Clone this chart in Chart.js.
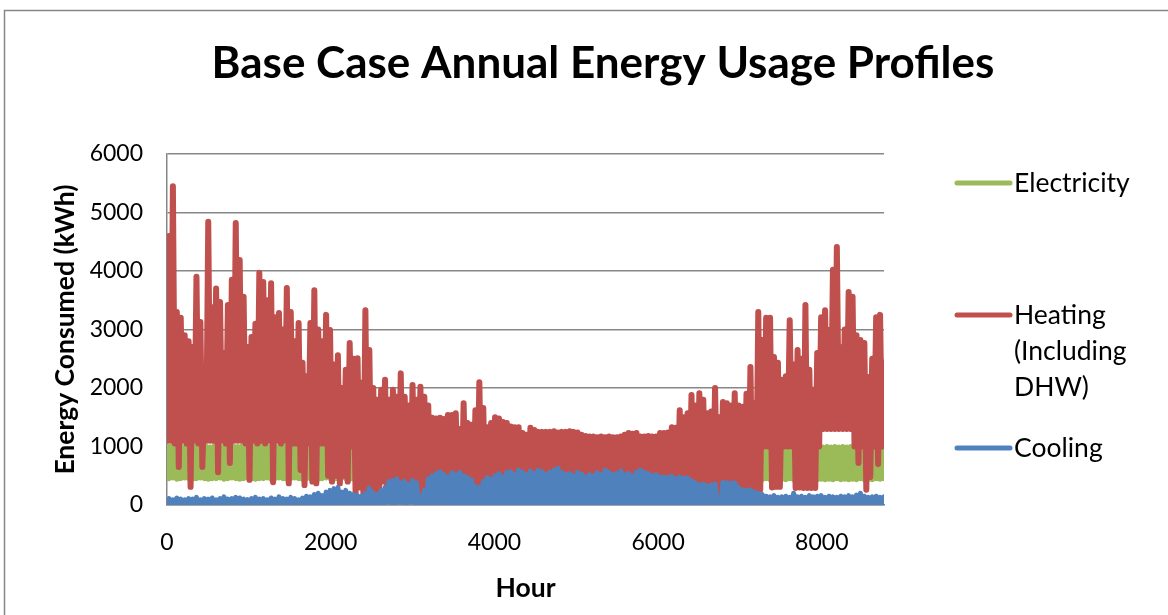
<!DOCTYPE html>
<html>
<head>
<meta charset="utf-8">
<title>Base Case Annual Energy Usage Profiles</title>
<script src="https://cdn.jsdelivr.net/npm/chart.js@4.4.1/dist/chart.umd.min.js"></script>
<style>
  html, body { margin: 0; padding: 0; background: #fff; overflow: hidden; }
  #energyChart { display: block; }
</style>
</head>
<body>
<canvas id="energyChart" width="1168" height="615"></canvas>
<script>
// values, one sample per day (every 24 h), alternating night/day
const hourStep = 24;
const xTicks = [0, 2000, 4000, 6000, 8000];
const legendLines = [['Electricity'], ['Heating', '(Including', 'DHW)'], ['Cooling']];

const electricity = [
  1020, 450, 1010, 460, 1000, 440, 1020, 450, 1000, 460, 1010, 450,
  1000, 440, 1010, 450, 990, 460, 1000, 450, 1010, 440, 990, 450,
  1020, 450, 1010, 460, 1000, 440, 1020, 450, 1000, 460, 1010, 450,
  1000, 440, 1010, 450, 990, 460, 1000, 450, 1010, 440, 990, 450,
  1020, 450, 1010, 460, 1000, 440, 1020, 450, 1000, 460, 1010, 450,
  1000, 440, 1010, 450, 990, 460, 1000, 450, 1010, 440, 990, 450,
  1020, 450, 1010, 460, 1000, 440, 1020, 450, 1000, 460, 1010, 450,
  1000, 440, 1010, 450, 990, 460, 1000, 450, 1010, 440, 990, 450,
  1000, 450, 1000, 460, 1000, 440, 1000, 450, 1000, 460, 1000, 450,
  1000, 440, 1000, 450, 990, 460, 1000, 450, 1000, 440, 990, 450,
  1000, 450, 1000, 460, 1000, 440, 1000, 450, 1000, 460, 1000, 450,
  1000, 440, 1000, 450, 990, 460, 1000, 450, 1000, 440, 990, 450,
  1000, 450, 1000, 460, 1000, 440, 1000, 450, 1000, 460, 1000, 450,
  1000, 440, 1000, 450, 990, 460, 1000, 450, 1000, 440, 990, 450,
  1000, 450, 1000, 460, 1000, 440, 1000, 450, 1000, 460, 1000, 450,
  1000, 440, 1000, 450, 990, 460, 1000, 450, 1000, 440, 990, 450,
  1000, 450, 1000, 460, 1000, 440, 1000, 450, 1000, 460, 1000, 450,
  1000, 440, 1000, 450, 990, 460, 1000, 450, 1000, 440, 990, 450,
  1000, 450, 1000, 460, 1000, 440, 1000, 450, 1000, 460, 1000, 450,
  1000, 440, 1000, 450, 990, 460, 1000, 450, 1000, 440, 990, 450,
  1000, 450, 1000, 460, 1000, 440, 1000, 450, 1000, 460, 1000, 450,
  1000, 440, 1000, 450, 990, 460, 1000, 450, 1000, 440, 990, 450,
  1010, 450, 1000, 460, 1010, 440, 1000, 450, 1010, 460, 1000, 450,
  1000, 440, 1010, 450, 990, 460, 1000, 450, 1010, 440, 990, 450,
  1010, 450, 1000, 460, 1010, 440, 1000, 450, 1010, 460, 1000, 450,
  1000, 440, 990, 430, 1000, 450, 990, 430, 1000, 440, 990, 430,
  1000, 440, 990, 430, 1000, 450, 990, 430, 1000, 440, 990, 430,
  1000, 440, 990, 430, 1000, 450, 990, 430, 1000, 440, 990, 430,
  1000, 440, 990, 430, 1000, 450, 990, 430, 1000, 440, 990, 430,
  1000, 440, 990, 430, 1000, 450, 990, 430, 1000, 440, 990, 430,
  1000, 450, 990, 440, 1000, 450
];

const heating = [
  1100, 4600, 1100, 5450, 1050, 3300, 650, 3200, 1100, 2900, 1050, 2800,
  310, 2700, 1100, 3900, 1050, 3130, 650, 1900, 1100, 4840, 1100, 3380,
  1100, 3700, 560, 3470, 1100, 2600, 1050, 3420, 720, 3850, 1100, 4820,
  1100, 4190, 1100, 3560, 1050, 2700, 430, 2870, 1100, 3100, 1050, 3970,
  1100, 3810, 1050, 3500, 1100, 3790, 390, 3210, 1100, 3280, 1050, 3000,
  1100, 3710, 370, 3300, 1050, 2800, 1050, 3110, 600, 2430, 340, 2200,
  1050, 3110, 400, 3670, 370, 3000, 1050, 2800, 1050, 3250, 500, 2990,
  400, 2400, 500, 2560, 370, 2000, 500, 2310, 400, 2770, 1000, 2500,
  200, 2510, 300, 2090, 170, 3330, 250, 2650, 300, 2000, 200, 1800,
  200, 1970, 400, 2140, 250, 1800, 300, 1970, 200, 1850, 250, 2250,
  200, 1850, 300, 1700, 200, 2050, 250, 1800, 150, 2020, 150, 1850,
  150, 1700, 120, 1490, 100, 1480, 120, 1490, 100, 1470, 150, 1540,
  100, 1540, 80, 1570, 60, 1300, 100, 1740, 80, 1400, 60, 1370,
  60, 1620, 50, 2100, 50, 1660, 40, 1330, 40, 1400, 30, 1500,
  30, 1480, 30, 1420, 20, 1400, 20, 1340, 20, 1330, 20, 1330,
  10, 1230, 10, 1200, 10, 1320, 0, 1280, 0, 1250, 0, 1250,
  0, 1250, 0, 1250, 10, 1260, 0, 1240, 0, 1250, 0, 1250,
  0, 1260, 0, 1250, 0, 1240, 0, 1200, 10, 1180, 0, 1170,
  0, 1170, 0, 1160, 0, 1170, 0, 1160, 0, 1170, 10, 1160,
  0, 1160, 0, 1170, 0, 1200, 0, 1230, 0, 1220, 0, 1230,
  0, 1170, 0, 1170, 10, 1180, 0, 1170, 0, 1170, 20, 1230,
  20, 1230, 30, 1240, 40, 1330, 50, 1320, 60, 1620, 80, 1500,
  80, 1570, 100, 1880, 100, 1700, 120, 1910, 120, 1800, 150, 1570,
  100, 1600, 150, 2000, 150, 1500, 150, 1760, 150, 1740, 200, 1700,
  150, 1910, 200, 1700, 150, 1680, 200, 1900, 200, 2360, 250, 1740,
  250, 3300, 260, 2820, 1000, 3200, 1000, 3200, 300, 2530, 310, 2430,
  310, 2140, 1000, 2200, 1000, 3160, 1000, 2400, 290, 2650, 300, 2500,
  290, 3420, 290, 2310, 290, 1970, 290, 2600, 1000, 3210, 1300, 3330,
  1300, 2990, 1300, 4020, 1300, 4410, 1300, 2700, 1300, 3000, 1300, 3640,
  1300, 3560, 1000, 2900, 720, 2820, 1000, 2770, 260, 2190, 480, 2500,
  1000, 3210, 700, 3250, 1000, 2430
];

const cooling = [
  20, 110, 10, 90, 30, 120, 10, 100, 20, 90, 10, 110,
  20, 100, 10, 130, 20, 90, 10, 110, 30, 100, 10, 120,
  20, 90, 10, 110, 20, 140, 10, 100, 20, 110, 30, 130,
  10, 120, 20, 100, 30, 90, 20, 110, 10, 130, 20, 100,
  20, 110, 10, 90, 20, 120, 30, 100, 10, 140, 20, 110,
  10, 100, 20, 130, 10, 110, 20, 90, 30, 120, 10, 150,
  20, 140, 10, 180, 30, 200, 20, 160, 30, 220, 20, 250,
  30, 280, 20, 300, 30, 220, 40, 250, 30, 200, 20, 180,
  30, 160, 20, 150, 40, 200, 30, 290, 20, 200, 30, 180,
  40, 250, 30, 300, 50, 400, 40, 420, 30, 450, 50, 380,
  40, 400, 30, 350, 50, 420, 40, 380, 30, 150, 20, 250,
  30, 450, 20, 500, 40, 540, 30, 570, 20, 520, 30, 480,
  20, 550, 10, 520, 30, 560, 20, 500, 10, 470, 20, 430,
  10, 320, 20, 300, 10, 400, 20, 470, 10, 440, 20, 500,
  10, 540, 0, 480, 10, 560, 0, 570, 10, 520, 0, 600,
  10, 560, 0, 520, 10, 580, 0, 540, 10, 600, 0, 570,
  0, 520, 10, 560, 0, 600, 10, 630, 0, 560, 10, 520,
  0, 540, 10, 500, 0, 560, 10, 530, 0, 480, 10, 520,
  0, 500, 10, 550, 0, 520, 10, 600, 0, 560, 10, 520,
  0, 540, 10, 580, 0, 520, 10, 540, 0, 500, 10, 560,
  0, 600, 10, 560, 0, 540, 10, 500, 0, 520, 10, 480,
  0, 480, 10, 470, 0, 490, 10, 450, 20, 480, 10, 460,
  10, 460, 20, 420, 10, 380, 20, 340, 10, 360, 20, 330,
  20, 340, 30, 360, 20, 100, 30, 390, 20, 380, 30, 370,
  20, 380, 30, 300, 20, 260, 30, 250, 20, 260, 30, 220,
  30, 200, 40, 180, 30, 150, 40, 140, 30, 160, 40, 130,
  30, 140, 40, 150, 30, 130, 40, 200, 30, 140, 40, 150,
  30, 130, 40, 160, 30, 140, 40, 150, 30, 160, 40, 130,
  30, 150, 40, 140, 30, 130, 40, 150, 30, 140, 40, 160,
  30, 140, 40, 170, 30, 200, 40, 150, 30, 130, 40, 140,
  30, 150, 40, 130, 30, 140
];

const toPoints = values => values.map((v, i) => ({ x: i * hourStep, y: v }));

const tickFont = { family: 'Lato', size: 23 };
const axisTitleFont = { family: 'Lato', size: 26.5, weight: 'bold' };
const gray = '#878787';

// frame, title and legend are drawn the way Excel lays them out
const excelDecor = {
  id: 'excelDecor',
  beforeDraw(chart) {
    const ctx = chart.ctx;
    ctx.save();
    ctx.strokeStyle = gray;
    ctx.lineWidth = 1.5;
    ctx.beginPath();
    ctx.moveTo(4.5, 615);
    ctx.lineTo(4.5, 10.5);
    ctx.lineTo(1168, 10.5);
    ctx.stroke();
    ctx.restore();
  },
  afterDraw(chart) {
    const ctx = chart.ctx;
    ctx.save();
    ctx.fillStyle = '#000';
    ctx.textBaseline = 'middle';
    ctx.font = 'bold 44px Lato';
    ctx.textAlign = 'center';
    ctx.fillText('Base Case Annual Energy Usage Profiles', 603, 64);

    ctx.font = '26.5px Lato';
    ctx.textAlign = 'left';
    const rowY = [183, 315, 448];
    chart.data.datasets.forEach((ds, i) => {
      ctx.strokeStyle = ds.borderColor;
      ctx.lineWidth = 5;
      ctx.lineCap = 'round';
      ctx.beginPath();
      ctx.moveTo(957, rowY[i]);
      ctx.lineTo(1010, rowY[i]);
      ctx.stroke();
      legendLines[i].forEach((line, j) => ctx.fillText(line, 1014, rowY[i] + j * 36));
    });
    ctx.restore();
  }
};

new Chart(document.getElementById('energyChart'), {
  type: 'line',
  data: {
    datasets: [
      { label: 'Electricity', data: toPoints(electricity), borderColor: '#9BBB59', borderWidth: 5, order: 2 },
      { label: 'Heating (Including DHW)', data: toPoints(heating), borderColor: '#C0504D', borderWidth: 6, order: 1 },
      { label: 'Cooling', data: toPoints(cooling), borderColor: '#4F81BD', borderWidth: 5, order: 0 }
    ]
  },
  options: {
    responsive: false,
    animation: false,
    events: [],
    devicePixelRatio: 1,
    parsing: false,
    elements: {
      point: { radius: 0 },
      line: { tension: 0, fill: false, borderJoinStyle: 'round', borderCapStyle: 'round' }
    },
    layout: { padding: { left: 40, right: 284, top: 154, bottom: 10 } },
    scales: {
      x: {
        type: 'linear',
        min: 0,
        max: 8760,
        afterBuildTicks: axis => { axis.ticks = xTicks.map(v => ({ value: v })); },
        afterFit: axis => { axis.height = 100; },
        grid: { display: false, drawTicks: false },
        border: { display: true, color: gray, width: 1.5 },
        ticks: { padding: 24, font: tickFont, color: '#000', maxRotation: 0, autoSkip: false, callback: v => String(v) },
        title: { display: true, text: 'Hour', font: axisTitleFont, color: '#000', padding: { top: 0, bottom: 1 } }
      },
      y: {
        min: 0,
        max: 6000,
        afterFit: axis => { axis.width = 127; },
        grid: { color: gray, lineWidth: 1.5, drawTicks: false },
        border: { display: true, color: gray, width: 1.5 },
        ticks: { stepSize: 1000, padding: 24, font: tickFont, color: '#000', callback: v => String(v) },
        title: { display: true, text: 'Energy Consumed (kWh)', font: axisTitleFont, color: '#000', padding: { top: 10, bottom: 0 } }
      }
    },
    plugins: {
      legend: { display: false },
      title: { display: false },
      tooltip: { enabled: false }
    }
  },
  plugins: [excelDecor]
});
</script>
</body>
</html>
